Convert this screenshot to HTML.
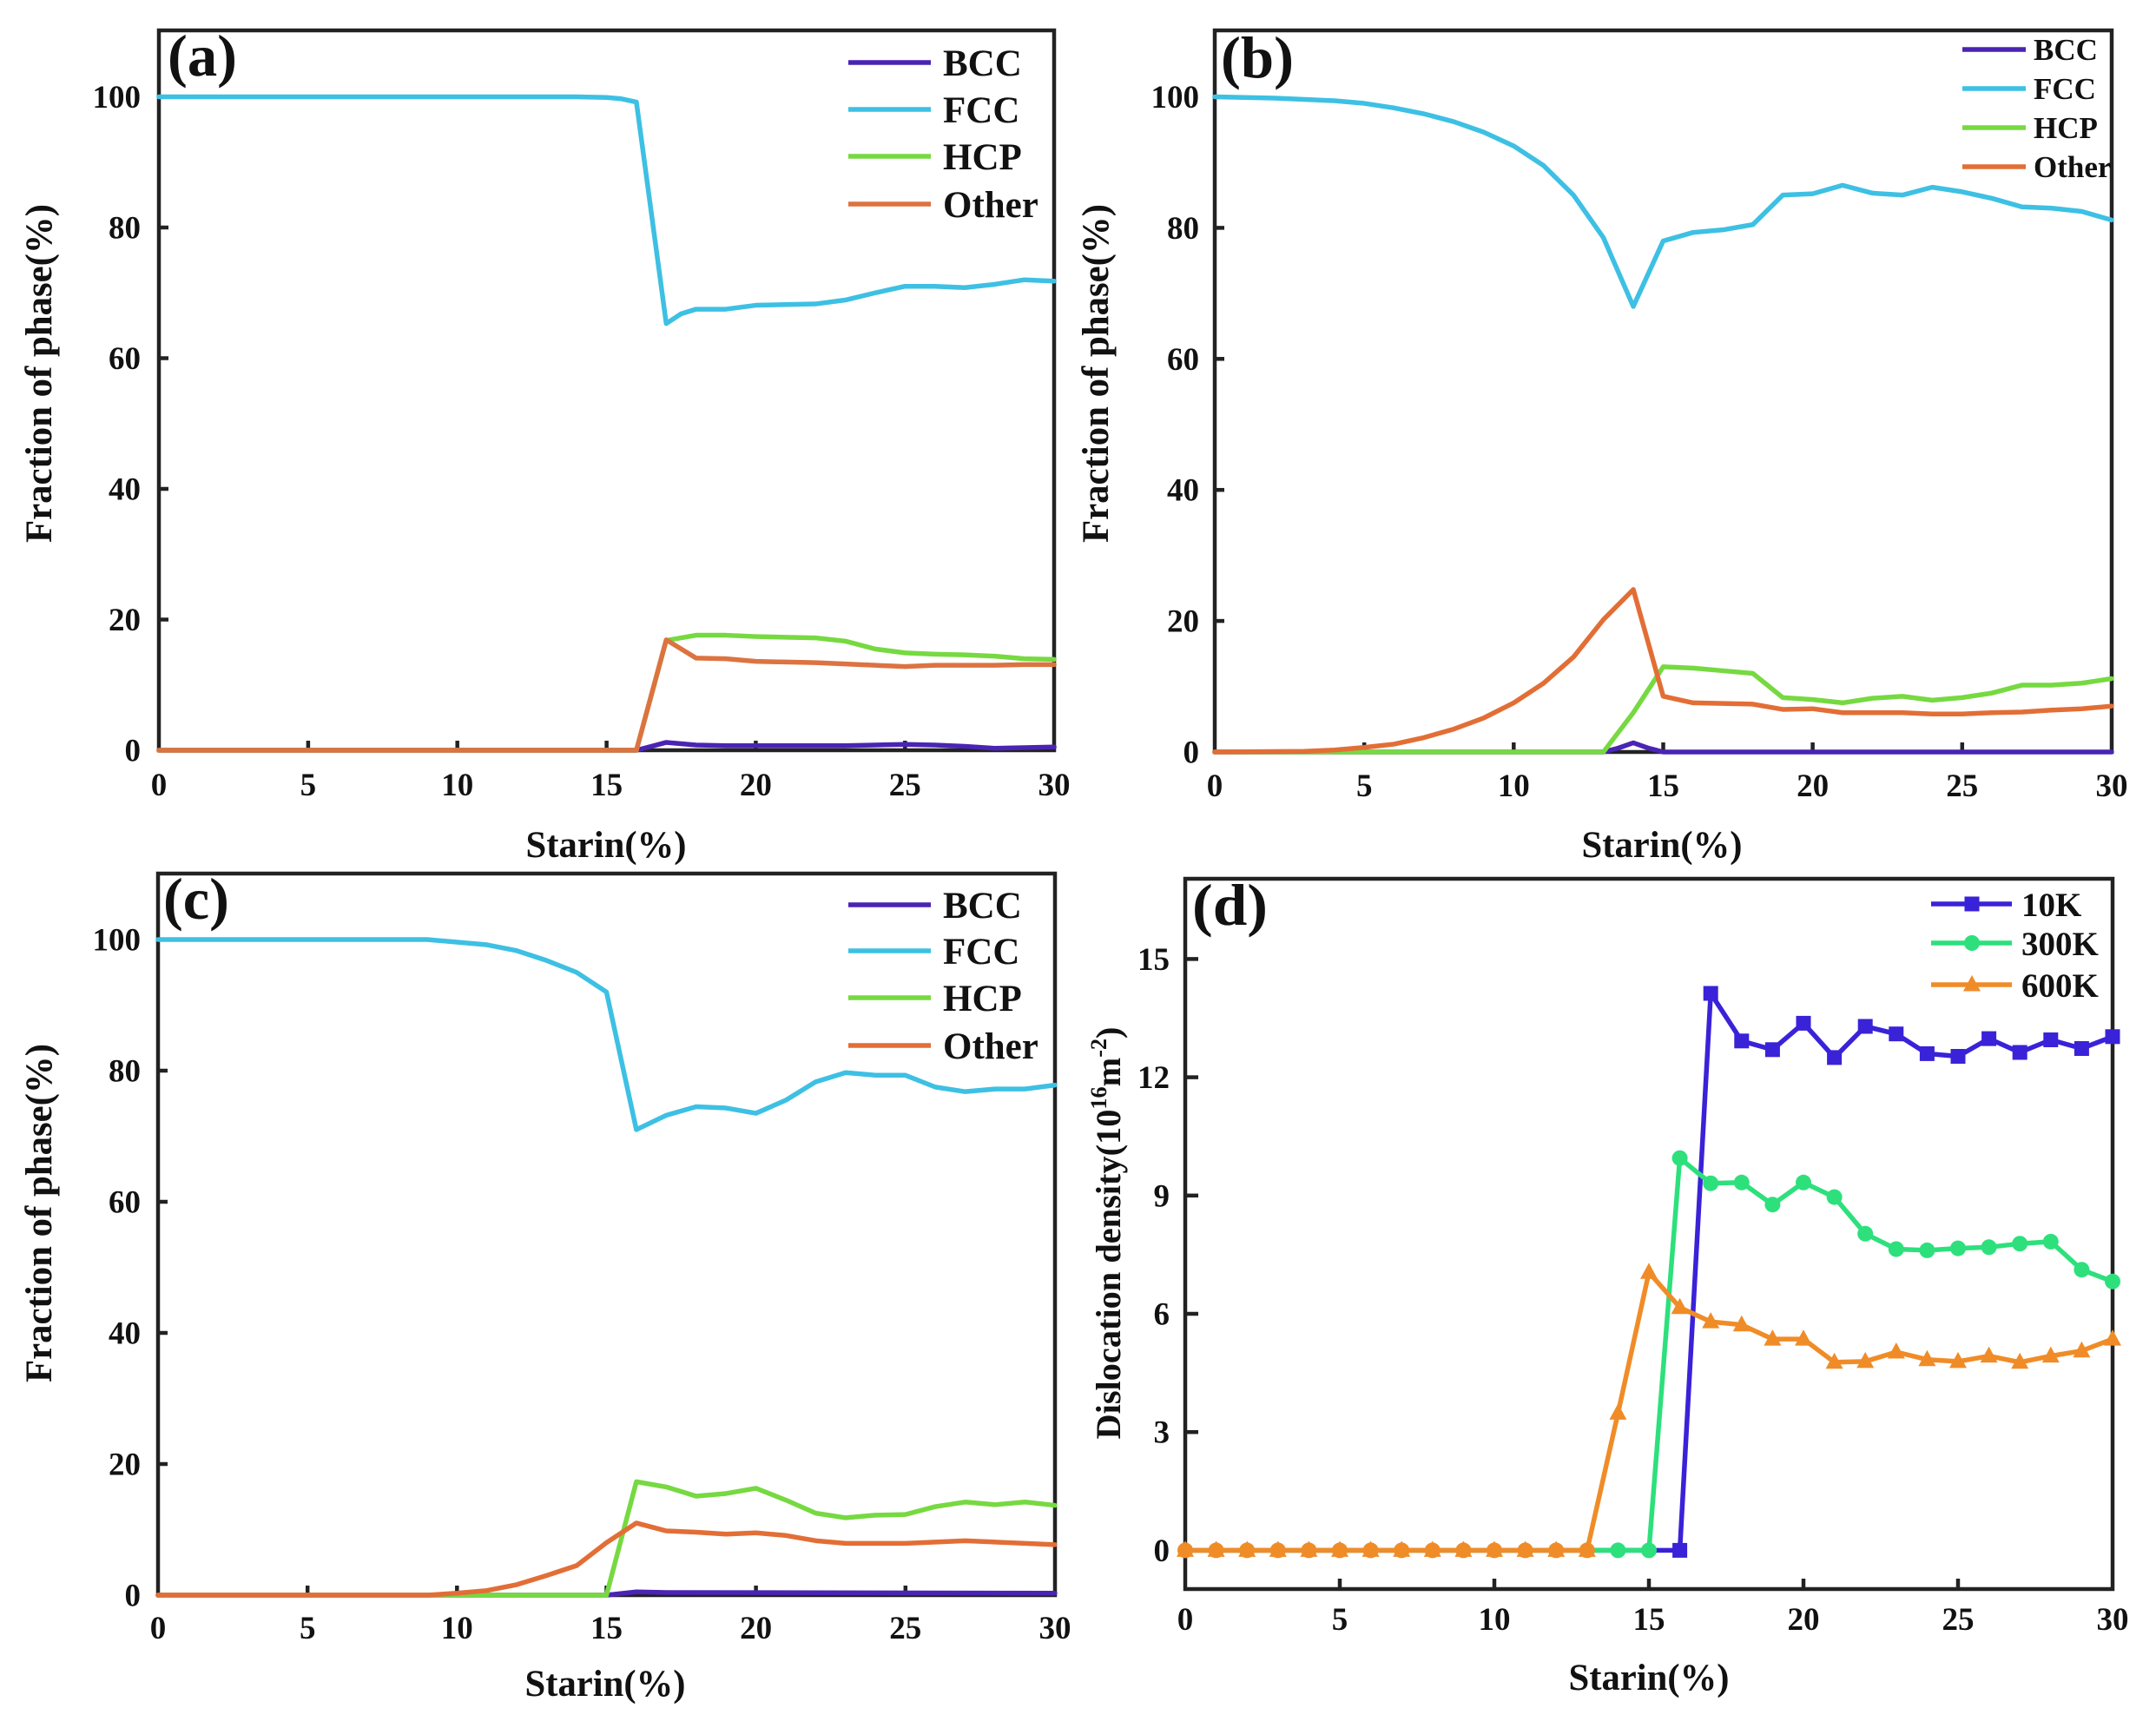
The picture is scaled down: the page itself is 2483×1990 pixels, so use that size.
<!DOCTYPE html>
<html><head><meta charset="utf-8"><style>
html,body{margin:0;padding:0;background:#fff;}
svg{display:block;}
text{font-family:"Liberation Serif","Times New Roman",serif;font-weight:bold;fill:#111;}
.tk{font-size:37px;}
.ax{font-size:43px;}
.lg{font-size:43px;}
.pl{font-size:68px;}
.ln{fill:none;stroke-width:5.5;stroke-linejoin:round;stroke-linecap:round;}
.box{fill:none;stroke:#222;stroke-width:4.5;}
.tick{stroke:#222;stroke-width:4.5;}
</style></head><body>
<svg width="2483" height="1990" viewBox="0 0 2483 1990" xmlns="http://www.w3.org/2000/svg">
<defs>
<rect id="sq" x="-8.5" y="-8.5" width="17" height="17"/>
<circle id="ci" cx="0" cy="0" r="9"/>
<polygon id="tr" points="0,-11 10,7.5 -10,7.5"/>
</defs>
<rect x="0" y="0" width="2483" height="1990" fill="#fff"/>

<!-- ================= PANEL A ================= -->
<rect class="box" x="183" y="35" width="1031" height="829"/>
<g class="tick">
<line x1="354.9" y1="864" x2="354.9" y2="853"/><line x1="526.7" y1="864" x2="526.7" y2="853"/><line x1="698.6" y1="864" x2="698.6" y2="853"/><line x1="870.4" y1="864" x2="870.4" y2="853"/><line x1="1042.3" y1="864" x2="1042.3" y2="853"/>
<line x1="183" y1="713.5" x2="194" y2="713.5"/><line x1="183" y1="563" x2="194" y2="563"/><line x1="183" y1="412.5" x2="194" y2="412.5"/><line x1="183" y1="262" x2="194" y2="262"/><line x1="183" y1="111.5" x2="194" y2="111.5"/>
</g>
<g transform="translate(183,864) scale(34.37,-7.525)">
<polyline class="ln" vector-effect="non-scaling-stroke" stroke="#4a24b4" points="0,0 16,0 16.5,0.6 17,1.2 18,0.8 19,0.7 20,0.7 21,0.7 22,0.7 23,0.7 24,0.8 25,0.9 26,0.8 27,0.6 28,0.3 29,0.4 30,0.5"/>
<polyline class="ln" vector-effect="non-scaling-stroke" stroke="#3dc0e3" points="0,100 14,100 15,99.9 15.5,99.7 16,99.2 17,65.3 17.5,66.8 18,67.5 19,67.5 20,68.1 21,68.2 22,68.3 23,68.9 24,70 25,71 26,71 27,70.8 28,71.3 29,72 30,71.8"/>
<polyline class="ln" vector-effect="non-scaling-stroke" stroke="#76d941" points="0,0 16,0 17,16.8 18,17.6 19,17.6 20,17.4 21,17.3 22,17.2 23,16.7 24,15.5 25,14.9 26,14.7 27,14.6 28,14.4 29,14 30,13.9"/>
<polyline class="ln" vector-effect="non-scaling-stroke" stroke="#dc7340" points="0,0 16,0 17,16.9 18,14.1 19,14 20,13.6 21,13.5 22,13.4 23,13.2 24,13 25,12.8 26,13 27,13 28,13 29,13.1 30,13.1"/>
</g>
<g class="tk" text-anchor="middle">
<text x="183" y="916">0</text><text x="354.9" y="916">5</text><text x="526.7" y="916">10</text><text x="698.6" y="916">15</text><text x="870.4" y="916">20</text><text x="1042.3" y="916">25</text><text x="1214" y="916">30</text>
</g>
<g class="tk" text-anchor="end">
<text x="162" y="876.5">0</text><text x="162" y="726">20</text><text x="162" y="575.5">40</text><text x="162" y="425">60</text><text x="162" y="274.5">80</text><text x="162" y="124">100</text>
</g>
<text class="ax" x="698" y="987" text-anchor="middle" textLength="185" lengthAdjust="spacingAndGlyphs">Starin(%)</text>
<text class="ax" transform="translate(59,430) rotate(-90)" text-anchor="middle" textLength="390" lengthAdjust="spacingAndGlyphs">Fraction of phase(%)</text>
<text class="pl" x="193" y="87" textLength="80" lengthAdjust="spacingAndGlyphs">(a)</text>
<g>
<line x1="977" y1="72" x2="1072" y2="72" stroke="#4a24b4" stroke-width="5.5"/>
<line x1="977" y1="126" x2="1072" y2="126" stroke="#3dc0e3" stroke-width="5.5"/>
<line x1="977" y1="180" x2="1072" y2="180" stroke="#76d941" stroke-width="5.5"/>
<line x1="977" y1="235" x2="1072" y2="235" stroke="#dc7340" stroke-width="5.5"/>
<text class="lg" x="1086" y="87">BCC</text>
<text class="lg" x="1086" y="141">FCC</text>
<text class="lg" x="1086" y="195">HCP</text>
<text class="lg" x="1086" y="250">Other</text>
</g>

<!-- ================= PANEL B ================= -->
<rect class="box" x="1399" y="35" width="1033" height="831"/>
<g class="tick">
<line x1="1571.2" y1="866" x2="1571.2" y2="855"/><line x1="1743.3" y1="866" x2="1743.3" y2="855"/><line x1="1915.5" y1="866" x2="1915.5" y2="855"/><line x1="2087.6" y1="866" x2="2087.6" y2="855"/><line x1="2259.8" y1="866" x2="2259.8" y2="855"/>
<line x1="1399" y1="715.1" x2="1410" y2="715.1"/><line x1="1399" y1="564.2" x2="1410" y2="564.2"/><line x1="1399" y1="413.3" x2="1410" y2="413.3"/><line x1="1399" y1="262.4" x2="1410" y2="262.4"/><line x1="1399" y1="111.5" x2="1410" y2="111.5"/>
</g>
<g transform="translate(1399,866) scale(34.43,-7.545)">
<polyline class="ln" vector-effect="non-scaling-stroke" stroke="#4a24b4" points="0,0 13,0 13.5,0.6 14,1.4 14.5,0.6 15,0 30,0"/>
<polyline class="ln" vector-effect="non-scaling-stroke" stroke="#3dc0e3" points="0,100 1,99.9 2,99.8 3,99.6 4,99.4 5,99 6,98.3 7,97.4 8,96.2 9,94.6 10,92.5 11,89.5 12,85 13,78.5 14,68 15,78 16,79.3 17,79.7 18,80.5 19,85 20,85.2 21,86.5 22,85.3 23,85 24,86.2 25,85.5 26,84.5 27,83.2 28,83 29,82.5 30,81.2"/>
<polyline class="ln" vector-effect="non-scaling-stroke" stroke="#76d941" points="0,0 13,0 14,6 15,13 16,12.8 17,12.4 18,12 19,8.3 20,8 21,7.5 22,8.2 23,8.5 24,7.9 25,8.3 26,9 27,10.2 28,10.2 29,10.5 30,11.2"/>
<polyline class="ln" vector-effect="non-scaling-stroke" stroke="#e26e36" points="0,0 3,0.1 4,0.3 5,0.7 6,1.2 7,2.2 8,3.5 9,5.2 10,7.5 11,10.5 12,14.5 13,20.2 14,24.8 15,8.5 16,7.5 17,7.4 18,7.3 19,6.5 20,6.6 21,6 22,6 23,6 24,5.8 25,5.8 26,6 27,6.1 28,6.4 29,6.6 30,7"/>
</g>
<g class="tk" text-anchor="middle">
<text x="1399" y="917">0</text><text x="1571.2" y="917">5</text><text x="1743.3" y="917">10</text><text x="1915.5" y="917">15</text><text x="2087.6" y="917">20</text><text x="2259.8" y="917">25</text><text x="2432" y="917">30</text>
</g>
<g class="tk" text-anchor="end">
<text x="1381" y="878.5">0</text><text x="1381" y="727.6">20</text><text x="1381" y="576.7">40</text><text x="1381" y="425.8">60</text><text x="1381" y="274.9">80</text><text x="1381" y="124">100</text>
</g>
<text class="ax" x="1914" y="987" text-anchor="middle" textLength="185" lengthAdjust="spacingAndGlyphs">Starin(%)</text>
<text class="ax" transform="translate(1276,430) rotate(-90)" text-anchor="middle" textLength="390" lengthAdjust="spacingAndGlyphs">Fraction of phase(%)</text>
<text class="pl" x="1406" y="89" textLength="84" lengthAdjust="spacingAndGlyphs">(b)</text>
<g>
<line x1="2260" y1="57" x2="2333" y2="57" stroke="#4a24b4" stroke-width="5.5"/>
<line x1="2260" y1="102" x2="2333" y2="102" stroke="#3dc0e3" stroke-width="5.5"/>
<line x1="2260" y1="147" x2="2333" y2="147" stroke="#76d941" stroke-width="5.5"/>
<line x1="2260" y1="192" x2="2333" y2="192" stroke="#e26e36" stroke-width="5.5"/>
<g style="font-size:35px;fill:#333">
<text x="2342" y="69">BCC</text>
<text x="2342" y="114">FCC</text>
<text x="2342" y="159">HCP</text>
<text x="2342" y="204">Other</text>
</g>
</g>

<!-- ================= PANEL C ================= -->
<rect class="box" x="182" y="1006" width="1033" height="831"/>
<g class="tick">
<line x1="354.2" y1="1837" x2="354.2" y2="1826"/><line x1="526.3" y1="1837" x2="526.3" y2="1826"/><line x1="698.5" y1="1837" x2="698.5" y2="1826"/><line x1="870.6" y1="1837" x2="870.6" y2="1826"/><line x1="1042.8" y1="1837" x2="1042.8" y2="1826"/>
<line x1="182" y1="1686" x2="193" y2="1686"/><line x1="182" y1="1535" x2="193" y2="1535"/><line x1="182" y1="1384" x2="193" y2="1384"/><line x1="182" y1="1233" x2="193" y2="1233"/><line x1="182" y1="1082" x2="193" y2="1082"/>
</g>
<g transform="translate(182,1837) scale(34.43,-7.55)">
<polyline class="ln" vector-effect="non-scaling-stroke" stroke="#4a24b4" points="0,0 15,0 16,0.5 17,0.4 30,0.3"/>
<polyline class="ln" vector-effect="non-scaling-stroke" stroke="#3dc0e3" points="0,100 9,100 10,99.6 11,99.2 12,98.3 13,96.8 14,95 15,92 16,71 17,73.2 18,74.5 19,74.3 20,73.5 21,75.5 22,78.3 23,79.7 24,79.3 25,79.3 26,77.5 27,76.8 28,77.2 29,77.2 30,77.8"/>
<polyline class="ln" vector-effect="non-scaling-stroke" stroke="#76d941" points="0,0 15,0 16,17.3 17,16.5 18,15.1 19,15.5 20,16.3 21,14.5 22,12.5 23,11.8 24,12.2 25,12.3 26,13.5 27,14.2 28,13.8 29,14.2 30,13.7"/>
<polyline class="ln" vector-effect="non-scaling-stroke" stroke="#e26e36" points="0,0 9,0 10,0.3 11,0.7 12,1.6 13,3 14,4.5 15,8 16,11 17,9.8 18,9.6 19,9.3 20,9.5 21,9.1 22,8.3 23,7.9 24,7.9 25,7.9 26,8.1 27,8.3 28,8.1 29,7.9 30,7.7"/>
</g>
<g class="tk" text-anchor="middle">
<text x="182" y="1887">0</text><text x="354.2" y="1887">5</text><text x="526.3" y="1887">10</text><text x="698.5" y="1887">15</text><text x="870.6" y="1887">20</text><text x="1042.8" y="1887">25</text><text x="1215" y="1887">30</text>
</g>
<g class="tk" text-anchor="end">
<text x="162" y="1849.5">0</text><text x="162" y="1698.5">20</text><text x="162" y="1547.5">40</text><text x="162" y="1396.5">60</text><text x="162" y="1245.5">80</text><text x="162" y="1094.5">100</text>
</g>
<text class="ax" x="697" y="1953" text-anchor="middle" textLength="185" lengthAdjust="spacingAndGlyphs">Starin(%)</text>
<text class="ax" transform="translate(59,1397) rotate(-90)" text-anchor="middle" textLength="390" lengthAdjust="spacingAndGlyphs">Fraction of phase(%)</text>
<text class="pl" x="188" y="1058" textLength="76" lengthAdjust="spacingAndGlyphs">(c)</text>
<g>
<line x1="977" y1="1042" x2="1072" y2="1042" stroke="#4a24b4" stroke-width="5.5"/>
<line x1="977" y1="1095" x2="1072" y2="1095" stroke="#3dc0e3" stroke-width="5.5"/>
<line x1="977" y1="1149" x2="1072" y2="1149" stroke="#76d941" stroke-width="5.5"/>
<line x1="977" y1="1204" x2="1072" y2="1204" stroke="#e26e36" stroke-width="5.5"/>
<text class="lg" x="1086" y="1057">BCC</text>
<text class="lg" x="1086" y="1110">FCC</text>
<text class="lg" x="1086" y="1164">HCP</text>
<text class="lg" x="1086" y="1219">Other</text>
</g>

<!-- ================= PANEL D ================= -->
<rect class="box" x="1365" y="1012" width="1068" height="818"/>
<g class="tick">
<line x1="1543" y1="1830" x2="1543" y2="1818"/><line x1="1721" y1="1830" x2="1721" y2="1818"/><line x1="1899" y1="1830" x2="1899" y2="1818"/><line x1="2077" y1="1830" x2="2077" y2="1818"/><line x1="2255" y1="1830" x2="2255" y2="1818"/>
<line x1="1365" y1="1785.4" x2="1380" y2="1785.4"/><line x1="1365" y1="1649.2" x2="1380" y2="1649.2"/><line x1="1365" y1="1513" x2="1380" y2="1513"/><line x1="1365" y1="1376.8" x2="1380" y2="1376.8"/><line x1="1365" y1="1240.6" x2="1380" y2="1240.6"/><line x1="1365" y1="1104.4" x2="1380" y2="1104.4"/>
</g>
<!-- 10K -->
<g fill="#3a22d8">
<polyline class="ln" stroke="#3a22d8" points="1365,1785.4 1934.6,1785.4 1970.2,1144 2005.8,1198.8 2041.4,1208.8 2077,1178.4 2112.6,1217.9 2148.2,1182 2183.8,1190.7 2219.4,1213.4 2255,1216.5 2290.6,1196.1 2326.2,1212 2361.8,1197.5 2397.4,1207.5 2433,1193.8"/>
<use href="#sq" x="1934.6" y="1785.4"/><use href="#sq" x="1970.2" y="1144"/><use href="#sq" x="2005.8" y="1198.8"/><use href="#sq" x="2041.4" y="1208.8"/><use href="#sq" x="2077" y="1178.4"/><use href="#sq" x="2112.6" y="1217.9"/><use href="#sq" x="2148.2" y="1182"/><use href="#sq" x="2183.8" y="1190.7"/><use href="#sq" x="2219.4" y="1213.4"/><use href="#sq" x="2255" y="1216.5"/><use href="#sq" x="2290.6" y="1196.1"/><use href="#sq" x="2326.2" y="1212"/><use href="#sq" x="2361.8" y="1197.5"/><use href="#sq" x="2397.4" y="1207.5"/><use href="#sq" x="2433" y="1193.8"/>
</g>
<!-- 300K -->
<g fill="#2de07c">
<polyline class="ln" stroke="#2de07c" points="1365,1785.4 1899,1785.4 1934.6,1333.7 1970.2,1362.7 2005.8,1361.8 2041.4,1387.2 2077,1361.8 2112.6,1378.6 2148.2,1420.8 2183.8,1438.5 2219.4,1439.9 2255,1437.6 2290.6,1436.3 2326.2,1432.2 2361.8,1429.9 2397.4,1462.2 2433,1475.8"/>
<use href="#ci" x="1863.4" y="1785.4"/><use href="#ci" x="1899" y="1785.4"/><use href="#ci" x="1934.6" y="1333.7"/><use href="#ci" x="1970.2" y="1362.7"/><use href="#ci" x="2005.8" y="1361.8"/><use href="#ci" x="2041.4" y="1387.2"/><use href="#ci" x="2077" y="1361.8"/><use href="#ci" x="2112.6" y="1378.6"/><use href="#ci" x="2148.2" y="1420.8"/><use href="#ci" x="2183.8" y="1438.5"/><use href="#ci" x="2219.4" y="1439.9"/><use href="#ci" x="2255" y="1437.6"/><use href="#ci" x="2290.6" y="1436.3"/><use href="#ci" x="2326.2" y="1432.2"/><use href="#ci" x="2361.8" y="1429.9"/><use href="#ci" x="2397.4" y="1462.2"/><use href="#ci" x="2433" y="1475.8"/>
</g>
<!-- 600K -->
<g fill="#f08c28">
<polyline class="ln" stroke="#f08c28" points="1365,1785.4 1827.8,1785.4 1863.4,1627.4 1899,1465.3 1934.6,1505.7 1970.2,1522.1 2005.8,1525.7 2041.4,1542.1 2077,1542.1 2112.6,1568.8 2148.2,1567.9 2183.8,1557 2219.4,1565.7 2255,1567.9 2290.6,1561.6 2326.2,1568.8 2361.8,1561.6 2397.4,1555.7 2433,1542.1"/>
<use href="#ci" x="1365" y="1785.4"/><use href="#ci" x="1400.6" y="1785.4"/><use href="#ci" x="1436.2" y="1785.4"/><use href="#ci" x="1471.8" y="1785.4"/><use href="#ci" x="1507.4" y="1785.4"/><use href="#ci" x="1543" y="1785.4"/><use href="#ci" x="1578.6" y="1785.4"/><use href="#ci" x="1614.2" y="1785.4"/><use href="#ci" x="1649.8" y="1785.4"/><use href="#ci" x="1685.4" y="1785.4"/><use href="#ci" x="1721" y="1785.4"/><use href="#ci" x="1756.6" y="1785.4"/><use href="#ci" x="1792.2" y="1785.4"/><use href="#ci" x="1827.8" y="1785.4"/>
<use href="#tr" x="1365" y="1785.4"/><use href="#tr" x="1400.6" y="1785.4"/><use href="#tr" x="1436.2" y="1785.4"/><use href="#tr" x="1471.8" y="1785.4"/><use href="#tr" x="1507.4" y="1785.4"/><use href="#tr" x="1543" y="1785.4"/><use href="#tr" x="1578.6" y="1785.4"/><use href="#tr" x="1614.2" y="1785.4"/><use href="#tr" x="1649.8" y="1785.4"/><use href="#tr" x="1685.4" y="1785.4"/><use href="#tr" x="1721" y="1785.4"/><use href="#tr" x="1756.6" y="1785.4"/><use href="#tr" x="1792.2" y="1785.4"/><use href="#tr" x="1827.8" y="1785.4"/>
<use href="#tr" x="1863.4" y="1627.4"/><use href="#tr" x="1899" y="1465.3"/><use href="#tr" x="1934.6" y="1505.7"/><use href="#tr" x="1970.2" y="1522.1"/><use href="#tr" x="2005.8" y="1525.7"/><use href="#tr" x="2041.4" y="1542.1"/><use href="#tr" x="2077" y="1542.1"/><use href="#tr" x="2112.6" y="1568.8"/><use href="#tr" x="2148.2" y="1567.9"/><use href="#tr" x="2183.8" y="1557"/><use href="#tr" x="2219.4" y="1565.7"/><use href="#tr" x="2255" y="1567.9"/><use href="#tr" x="2290.6" y="1561.6"/><use href="#tr" x="2326.2" y="1568.8"/><use href="#tr" x="2361.8" y="1561.6"/><use href="#tr" x="2397.4" y="1555.7"/><use href="#tr" x="2433" y="1542.1"/>
</g>
<g class="tk" text-anchor="middle">
<text x="1365" y="1877">0</text><text x="1543" y="1877">5</text><text x="1721" y="1877">10</text><text x="1899" y="1877">15</text><text x="2077" y="1877">20</text><text x="2255" y="1877">25</text><text x="2433" y="1877">30</text>
</g>
<g class="tk" text-anchor="end">
<text x="1347" y="1797.9">0</text><text x="1347" y="1661.7">3</text><text x="1347" y="1525.5">6</text><text x="1347" y="1389.3">9</text><text x="1347" y="1253.1">12</text><text x="1347" y="1116.9">15</text>
</g>
<text class="ax" x="1899" y="1946" text-anchor="middle" textLength="185" lengthAdjust="spacingAndGlyphs">Starin(%)</text>
<text class="ax" transform="translate(1290,1420) rotate(-90)" text-anchor="middle" style="font-size:40px" textLength="475" lengthAdjust="spacingAndGlyphs">Dislocation density(10<tspan dy="-16" style="font-size:26px">16</tspan><tspan dy="16">m</tspan><tspan dy="-16" style="font-size:26px">-2</tspan><tspan dy="16">)</tspan></text>
<text class="pl" x="1373" y="1065" textLength="87" lengthAdjust="spacingAndGlyphs">(d)</text>
<g>
<line x1="2224" y1="1041" x2="2317" y2="1041" stroke="#3a22d8" stroke-width="5.5"/>
<use href="#sq" x="2271" y="1041" fill="#3a22d8"/>
<line x1="2224" y1="1086" x2="2317" y2="1086" stroke="#2de07c" stroke-width="5.5"/>
<use href="#ci" x="2271" y="1086" fill="#2de07c"/>
<line x1="2224" y1="1134" x2="2317" y2="1134" stroke="#f08c28" stroke-width="5.5"/>
<use href="#tr" x="2271" y="1134" fill="#f08c28"/>
<g style="font-size:39px">
<text x="2328" y="1055">10K</text>
<text x="2328" y="1100">300K</text>
<text x="2328" y="1148">600K</text>
</g>
</g>
</svg>
</body></html>
